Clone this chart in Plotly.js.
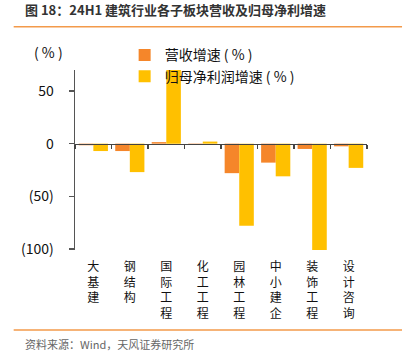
<!DOCTYPE html>
<html>
<head>
<meta charset="utf-8">
<script src="https://cdn.plot.ly/plotly-3.0.1.min.js"></script>
<style>
html,body{margin:0;padding:0;background:#fff;}
#chart{width:403px;height:360px;}
</style>
</head>
<body>
<div id="chart"></div>
<script>
const categories = ["大基建","钢结构","国际工程","化工工程","园林工程","中小建企","装饰工程","设计咨询"];
const revenueGrowth = [-1.5, -7, 1.5, -1, -28, -18, -5, -2.5];
const profitGrowth = [-7, -27, 70, 2, -78, -31, -102, -23];
const seriesNames = ["营收增速 ( % )","归母净利润增速 ( % )"];
const yTickVals = [50, 0, -50, -100];
const yTickText = ["50", "0", "(50)", "(100)"];

const vertLabels = categories.map(c => c.split("").join("<br>"));
const font = "'Noto Sans CJK SC', 'Noto Sans', sans-serif";

const traces = [
  {type:"bar", x:categories, y:revenueGrowth, name:seriesNames[0],
   marker:{color:"#F5862A"}, hoverinfo:"skip"},
  {type:"bar", x:categories, y:profitGrowth, name:seriesNames[1],
   marker:{color:"#FFC000"}, hoverinfo:"skip"},
  {type:"scatter", x:categories, y:categories.map(()=>0), xaxis:"x2",
   mode:"markers", marker:{opacity:0}, showlegend:false, hoverinfo:"skip"}
];

const layout = {
  width:403, height:360,
  margin:{l:75, r:36, t:70, b:110},
  paper_bgcolor:"#fff", plot_bgcolor:"#fff",
  font:{family:font, color:"#111", size:14},
  barmode:"group", bargap:0.2, bargroupgap:0,
  showlegend:true,
  legend:{x:0.17, y:1.17, xanchor:"left", yanchor:"top", orientation:"v",
          bgcolor:"rgba(0,0,0,0)", font:{size:14, color:"#111", family:font},
          itemwidth:30, tracegroupgap:0},
  xaxis:{type:"category", tickvals:categories, ticktext:vertLabels,
         tickangle:0, showline:false, ticks:"", showgrid:false, zeroline:false,
         tickfont:{size:12, color:"#111", family:font}, ticklabelstandoff:8},
  xaxis2:{type:"category", overlaying:"x", matches:"x", anchor:"free",
          position:(0-(-101))/(70-(-101)), side:"bottom",
          showline:true, linecolor:"#444", linewidth:1.5,
          ticks:"outside", tickson:"boundaries", ticklen:4, tickcolor:"#444", tickwidth:1.5,
          showticklabels:false, showgrid:false, zeroline:false},
  yaxis:{range:[-101, 70], tickvals:yTickVals, ticktext:yTickText,
         showline:true, linecolor:"#555", linewidth:1.5,
         ticks:"outside", ticklen:5, tickcolor:"#555", tickwidth:1.5,
         showgrid:false, zeroline:false, ticklabelstandoff:12,
         tickfont:{size:14, color:"#111", family:font}},
  shapes:[
    {type:"line", xref:"paper", yref:"paper", x0:-0.21, x1:1.12, y0:1.24, y1:1.24,
     line:{color:"#F39A4A", width:1.5}},
    {type:"line", xref:"paper", yref:"paper", x0:-0.21, x1:1.12, y0:-0.445, y1:-0.445,
     line:{color:"#F39A4A", width:1.5}}
  ],
  annotations:[
    {text:"<b>图 18：24H1 建筑行业各子板块营收及归母净利增速</b>", xref:"paper", yref:"paper",
     x:-0.178, y:1.335, xanchor:"left", yanchor:"middle", showarrow:false,
     font:{size:13, color:"#333", family:font}},
    {text:"( % )", xref:"paper", yref:"paper", x:-0.09, y:1.1, xanchor:"center", yanchor:"middle",
     showarrow:false, font:{size:14, color:"#111", family:font}},
    {text:"资料来源：Wind，天风证券研究所", xref:"paper", yref:"paper",
     x:-0.178, y:-0.52, xanchor:"left", yanchor:"middle", showarrow:false,
     font:{size:11, color:"#666", family:font}}
  ]
};

Plotly.newPlot("chart", traces, layout, {displayModeBar:false, staticPlot:true});
</script>
</body>
</html>
